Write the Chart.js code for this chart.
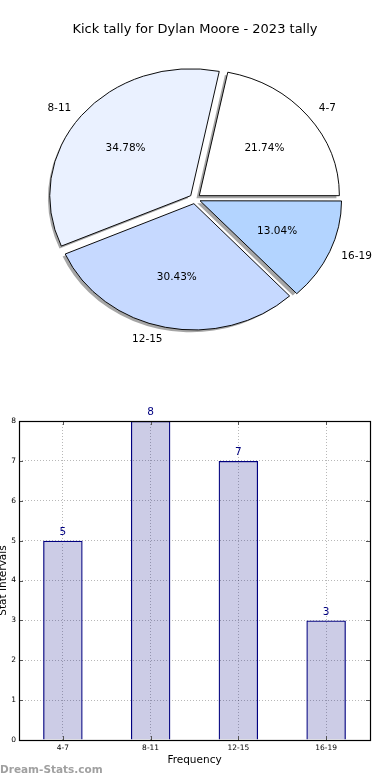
<!DOCTYPE html>
<html>
<head>
<meta charset="utf-8">
<script src="https://cdn.jsdelivr.net/npm/chart.js@4/dist/chart.umd.min.js"></script>
<style>
  html, body { margin: 0; padding: 0; background: #ffffff; }
  #wrap { position: relative; width: 390px; height: 780px; overflow: hidden; }
  #pie { position: absolute; left: 0; top: 0; }
  #bar { position: absolute; left: 0; top: 350px; }
</style>
</head>
<body>
<div id="wrap">
  <canvas id="pie" width="390" height="350"></canvas>
  <canvas id="bar" width="390" height="430"></canvas>
</div>
<script>
// ---- data ----
const titleText = 'Kick tally for Dylan Moore - 2023 tally';
const categories = ['4-7', '8-11', '12-15', '16-19'];
const counts = [5, 8, 7, 3];
const yTicks = [0, 1, 2, 3, 4, 5, 6, 7, 8];
const xAxisTitle = 'Frequency';
const yAxisTitle = 'Stat Intervals';
const watermark = 'Dream-Stats.com';

// ---- styles ----
const pieColors = ['#ffffff', '#eaf1ff', '#c6d9ff', '#b3d4ff'];
const FONT = "'DejaVu Sans', sans-serif";
const Y_SQUASH = 0.9;

Chart.defaults.font.family = FONT;
Chart.defaults.color = '#000';

// matplotlib draws counter-clockwise from 3 o'clock; Chart.js clockwise from 12.
// Build a clockwise order: first slice, then remaining in reverse.
const total = counts.reduce((a, b) => a + b, 0);
const order = [0].concat(categories.map((_, i) => i).slice(1).reverse());
const pieLabels = order.map(i => categories[i]);
const pieValues = order.map(i => counts[i]);
const pieBg = order.map(i => pieColors[i]);
const rotationDeg = 90 - 360 * counts[0] / total;

function squash(ctx, cx, cy) {
  ctx.translate(cx, cy);
  ctx.scale(1, Y_SQUASH);
  ctx.translate(-cx, -cy);
}

const piePlugin = {
  id: 'piePlugin',
  beforeDatasetsDraw(chart) {
    const ctx = chart.ctx;
    const arcs = chart.getDatasetMeta(0).data;
    if (!arcs.length) return;
    const cx = arcs[0].x, cy = arcs[0].y;
    // shadows
    ctx.save();
    ctx.translate(-2.8, 2.6);
    squash(ctx, cx, cy);
    ctx.fillStyle = 'rgba(77,77,77,0.5)';
    arcs.forEach(el => {
      const mid = (el.startAngle + el.endAngle) / 2;
      const off = (el.options.offset || 0) / 4;
      const ox = cx + Math.cos(mid) * off, oy = cy + Math.sin(mid) * off;
      ctx.beginPath();
      ctx.moveTo(ox, oy);
      ctx.arc(ox, oy, el.outerRadius, el.startAngle, el.endAngle);
      ctx.closePath();
      ctx.fill();
    });
    ctx.restore();
    ctx.save();
    squash(ctx, cx, cy);
  },
  afterDatasetsDraw(chart) {
    const ctx = chart.ctx;
    ctx.restore();
    const arcs = chart.getDatasetMeta(0).data;
    if (!arcs.length) return;
    const cx = arcs[0].x, cy = arcs[0].y;
    ctx.save();
    ctx.fillStyle = '#000';
    ctx.font = '10.5px ' + FONT;
    ctx.textBaseline = 'middle';
    arcs.forEach((el, k) => {
      const mid = (el.startAngle + el.endAngle) / 2;
      const off = (el.options.offset || 0) / 4;
      const R = el.outerRadius;
      const ux = Math.cos(mid), uy = Math.sin(mid);
      const pct = (pieValues[k] / total * 100).toFixed(2) + '%';
      ctx.textAlign = 'center';
      ctx.fillText(pct, cx + (off + 0.6 * R) * ux, cy + Y_SQUASH * (off + 0.6 * R) * uy);
      ctx.textAlign = ux > 0 ? 'left' : 'right';
      ctx.fillText(pieLabels[k], cx + (off + 1.1 * R) * ux, cy + Y_SQUASH * (off + 1.1 * R) * uy);
    });
    ctx.restore();
  }
};

new Chart(document.getElementById('pie'), {
  type: 'pie',
  data: {
    labels: pieLabels,
    datasets: [{
      data: pieValues,
      backgroundColor: pieBg,
      borderColor: '#000',
      borderWidth: 1,
      offset: 22,
      clip: false
    }]
  },
  options: {
    responsive: false,
    devicePixelRatio: 1,
    animation: false,
    events: [],
    radius: 140,
    rotation: rotationDeg,
    layout: { padding: 0 },
    plugins: {
      legend: { display: false },
      tooltip: { enabled: false },
      title: {
        display: true,
        text: titleText,
        color: '#000',
        font: { size: 13, weight: 'normal', family: FONT },
        padding: { top: 22, bottom: 10 }
      }
    }
  },
  plugins: [piePlugin]
});

// ---- bar chart ----
const barPlugin = {
  id: 'barPlugin',
  afterDatasetsDraw(chart) {
    const ctx = chart.ctx;
    const { left, right, top, bottom } = chart.chartArea;
    const xs = chart.scales.x, ys = chart.scales.y;
    ctx.save();
    // inward ticks
    ctx.strokeStyle = '#555';
    ctx.lineWidth = 1;
    ctx.beginPath();
    yTicks.forEach(v => {
      const py = Math.round(ys.getPixelForValue(v)) + 0.5;
      ctx.moveTo(left, py); ctx.lineTo(left + 4, py);
      ctx.moveTo(right - 4, py); ctx.lineTo(right, py);
    });
    categories.forEach((c, i) => {
      const px = Math.round(xs.getPixelForValue(i)) + 0.5;
      ctx.moveTo(px, top); ctx.lineTo(px, top + 4);
      ctx.moveTo(px, bottom); ctx.lineTo(px, bottom - 4);
    });
    ctx.stroke();
    // frame
    ctx.strokeStyle = '#000';
    ctx.lineWidth = 1.2;
    ctx.strokeRect(Math.round(left) + 0.5, Math.round(top) + 0.5,
                   Math.round(right) - Math.round(left), Math.round(bottom) - Math.round(top));
    // value labels
    ctx.fillStyle = '#000080';
    ctx.font = '10.5px ' + FONT;
    ctx.textAlign = 'center';
    ctx.textBaseline = 'bottom';
    chart.getDatasetMeta(0).data.forEach((el, i) => {
      ctx.fillText(String(counts[i]), el.x, el.y - 3);
    });
    ctx.restore();
  },
  afterDraw(chart) {
    const ctx = chart.ctx;
    ctx.save();
    ctx.fillStyle = '#a0a0a0';
    ctx.font = 'bold 10.5px ' + FONT;
    ctx.textAlign = 'left';
    ctx.textBaseline = 'middle';
    ctx.fillText(watermark, 0, 420);
    ctx.restore();
  }
};

const gridColor = 'rgba(0,0,0,0.28)';

new Chart(document.getElementById('bar'), {
  type: 'bar',
  data: {
    labels: categories,
    datasets: [{
      data: counts,
      backgroundColor: 'rgba(0,0,128,0.2)',
      borderColor: '#000080',
      borderWidth: 1.3,
      barPercentage: 0.45,
      categoryPercentage: 1.0
    }]
  },
  options: {
    responsive: false,
    devicePixelRatio: 1,
    animation: false,
    events: [],
    layout: { padding: { top: 71, right: 20, left: 0, bottom: 0 } },
    plugins: {
      legend: { display: false },
      tooltip: { enabled: false },
      title: { display: false }
    },
    scales: {
      x: {
        type: 'category',
        offset: true,
        grid: { offset: false, color: gridColor, lineWidth: 1, drawTicks: false },
        border: { display: false, dash: [1, 2] },
        ticks: { font: { size: 7.5 }, color: '#000', padding: 4, maxRotation: 0 },
        title: { display: true, text: xAxisTitle, color: '#000', font: { size: 10.5 }, padding: { top: 0, bottom: 13.7 } },
        afterFit(s) { s.height = 40; }
      },
      y: {
        min: 0,
        max: 8,
        afterBuildTicks(s) { s.ticks = yTicks.map(v => ({ value: v })); },
        grid: { color: gridColor, lineWidth: 1, drawTicks: false },
        border: { display: false, dash: [1, 2] },
        ticks: { font: { size: 7.5 }, color: '#000', padding: 3 },
        title: { display: true, text: yAxisTitle, color: '#000', font: { size: 10.5 }, padding: { top: -2.8, bottom: 0 } },
        afterFit(s) { s.width = 19; }
      }
    }
  },
  plugins: [barPlugin]
});
</script>
</body>
</html>
